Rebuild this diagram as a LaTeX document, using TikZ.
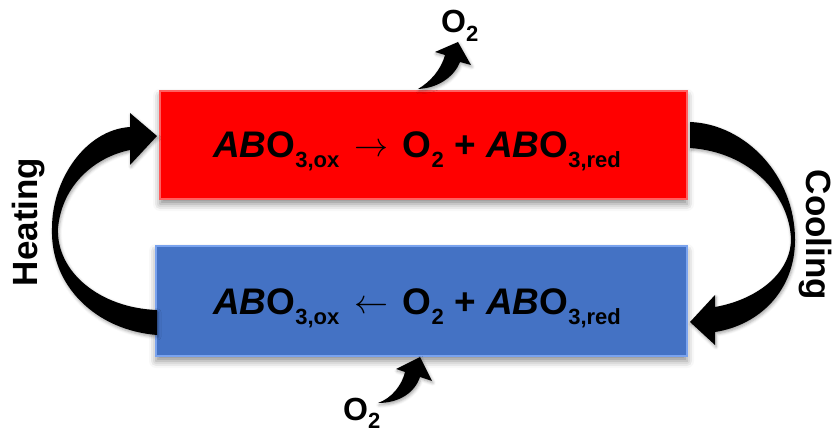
\documentclass[tikz,border=0pt]{standalone}
\usepackage{fontspec}
\setmainfont{Liberation Sans}
\usetikzlibrary{shadows.blur}
\definecolor{boxred}{HTML}{FF0000}
\definecolor{boxredrim}{HTML}{FF6060}
\definecolor{boxblue}{HTML}{4472C4}
\definecolor{boxbluerim}{HTML}{7AA3EE}
\newcommand\sbs[1]{\raisebox{-0.26em}{\fontsize{22}{22}\selectfont #1}}
\newcommand\eqnline[1]{\textit{AB}O\sbs{3,ox}\hspace{0.4em}\raisebox{0.05em}{\resizebox{34pt}{!}{$#1$}}\hspace{0.4em}O\sbs{2} + \textit{AB}O\sbs{3,red}}
\tikzset{
  boxshadow/.style={blur shadow={shadow xshift=0pt, shadow yshift=-5pt, shadow blur radius=7pt, shadow opacity=45}},
  arrowshadow/.style={blur shadow={shadow xshift=1pt, shadow yshift=-2pt, shadow blur radius=3pt, shadow opacity=35}},
  reactbox/.style={rectangle, inner sep=0pt, line width=1.2pt, boxshadow},
  bigtext/.style={inner sep=0pt, font=\fontsize{37}{40}\selectfont\bfseries},
  sidetext/.style={inner sep=0pt, font=\fontsize{35}{40}\selectfont\bfseries},
  gastext/.style={inner sep=0pt, font=\fontsize{32}{36}\selectfont\bfseries},
  bentarrow/.style={fill=black, arrowshadow}
}
\begin{document}
\begin{tikzpicture}[x=1pt, y=-1pt]
\useasboundingbox (0,0) rectangle (832,435);

% boxes
\node[reactbox, fill=boxred, draw=boxredrim, minimum width=527pt, minimum height=108pt] (redbox) at (423.5,145) {};
\node[reactbox, fill=boxblue, draw=boxbluerim, minimum width=531pt, minimum height=110pt] (bluebox) at (421.5,301) {};

% equations
\node[bigtext, anchor=base] (redtext) at (417,158) {\eqnline{\rightarrow}};
\node[bigtext, anchor=base] (bluetext) at (417,315) {\eqnline{\leftarrow}};

% heating arrow
\fill[bentarrow] (157,335) .. controls (95,330) and (50,285) .. (52,228)
  .. controls (52,180) and (85,130) .. (130,127)
  -- (130,113) -- (157,136) -- (130,165) -- (130,150)
  .. controls (95,157) and (62,185) .. (58,228)
  .. controls (56,272) and (100,308) .. (157,310) -- cycle;

% cooling arrow
\fill[bentarrow] (690,122) .. controls (745,124) and (795,175) .. (795,240)
  .. controls (795,290) and (760,325) .. (715,332)
  -- (715,345) -- (690,322) -- (715,295) -- (715,307)
  .. controls (755,300) and (790,275) .. (791,240)
  .. controls (790,195) and (750,152) .. (690,148) -- cycle;

% side labels
\node[sidetext, rotate=90, anchor=base] (heat) at (37,222) {Heating};
\node[sidetext, rotate=-90, anchor=base] (cool) at (806,235) {Cooling};

% O2 released (top)
\fill[bentarrow] (418,89) .. controls (430,82) and (441,70) .. (445,55)
  -- (435,52) -- (458,42) -- (471,65) -- (460,62)
  .. controls (455,75) and (440,88) .. (418,89) -- cycle;
\node[gastext, anchor=base west] (o2top) at (441,33) {O\sbs{2}};

% O2 taken up (bottom)
\fill[bentarrow] (378,403) .. controls (392,398) and (402,385) .. (405,372)
  -- (396,369) -- (420,357) -- (432,381) -- (420,377)
  .. controls (415,392) and (400,403) .. (378,403) -- cycle;
\node[gastext, anchor=base west] (o2bot) at (343,420) {O\sbs{2}};
\end{tikzpicture}
\end{document}
